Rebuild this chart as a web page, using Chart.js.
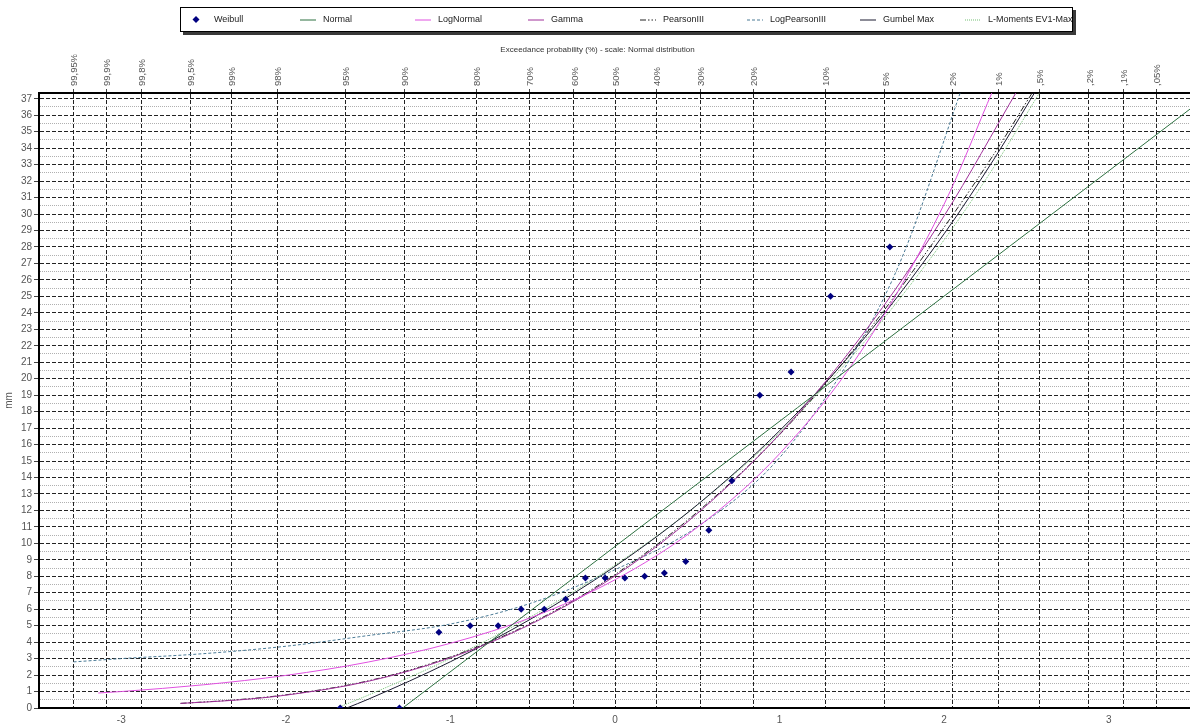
<!DOCTYPE html>
<html>
<head>
<meta charset="utf-8">
<script src="https://cdn.jsdelivr.net/npm/chart.js@4.4.1/dist/chart.umd.min.js"></script>
<style>
  html, body { margin: 0; padding: 0; background: #fff; overflow: hidden; }
  #wrap { width: 1195px; height: 728px; }
</style>
</head>
<body>
<div id="wrap"><canvas id="chart"></canvas></div>
<script>
// top axis: exceedance probability, placed on the normal (z) scale
const probZ = [-3.29, -3.09, -2.88, -2.58, -2.33, -2.05, -1.64, -1.28, -0.84, -0.52, -0.25, 0,
  0.25, 0.52, 0.84, 1.28, 1.64, 2.05, 2.33, 2.58, 2.88, 3.09, 3.29];
const probLabels = ['99,95%', '99,9%', '99,8%', '99,5%', '99%', '98%', '95%', '90%', '80%', '70%', '60%', '50%',
  '40%', '30%', '20%', '10%', '5%', '2%', '1%', ',5%', ',2%', ',1%', ',05%'];
const zTicks = [-3, -2, -1, 0, 1, 2, 3];

// observed values (Weibull plotting positions)
const weibullZ = [-1.67, -1.31, -1.07, -0.88, -0.71, -0.57, -0.43, -0.30, -0.18, -0.06,
  0.06, 0.18, 0.30, 0.43, 0.57, 0.71, 0.88, 1.07, 1.31, 1.67];
const weibullMm = [0, 0, 4.6, 5, 5, 6, 6, 6.6, 7.9, 7.9, 7.9, 8, 8.2, 8.9, 10.8, 13.8, 19, 20.4, 25, 28];

// fitted distributions
const normalZ = [-1.29, 3.55];
const normalMm = [0, 36.8];

const logNormalZ = [-3.14, -3, -2.5, -2, -1.5, -1, -0.5, 0, 0.5, 1, 1.5, 2, 2.3];
const logNormalMm = [0.91, 1.0, 1.41, 1.98, 2.79, 3.93, 5.53, 7.79, 10.97, 15.44, 21.74, 30.6, 37.6];

const gammaZ = [-2.64, -2.3, -2, -1.5, -1, -0.5, 0, 0.5, 1, 1.5, 2, 2.45];
const gammaMm = [0.28, 0.48, 0.78, 1.62, 3.05, 5.15, 8.02, 11.81, 16.63, 22.62, 29.89, 37.6];

const pearsonZ = [-2.64, -2.3, -2, -1.5, -1, -0.5, 0, 0.5, 1, 1.5, 2, 2.3, 2.55];
const pearsonMm = [0.28, 0.5, 0.8, 1.65, 3.1, 5.2, 8.1, 11.9, 16.6, 22.4, 29.2, 33.6, 37.6];

const logPearsonZ = [-3.29, -3, -2.5, -2, -1.5, -1, -0.5, 0, 0.5, 1, 1.5, 1.75, 2.12];
const logPearsonMm = [2.8, 3.0, 3.3, 3.75, 4.4, 5.1, 6.4, 8.4, 11.0, 15.2, 22.4, 27.5, 38];

const gumbelZ = [-1.63, -1.5, -1, -0.5, 0, 0.5, 1, 1.5, 2, 2.3, 2.6];
const gumbelMm = [0, 0.53, 2.81, 5.47, 8.6, 12.34, 16.84, 22.28, 28.8, 33.29, 38.2];

const lMomZ = [-1.69, -1.5, -1, -0.5, 0, 0.5, 1, 1.5, 2, 2.3, 2.6];
const lMomMm = [0, 0.78, 3.01, 5.61, 8.68, 12.33, 16.73, 22.05, 28.43, 32.82, 37.7];

const pts = (xs, ys) => xs.map((x, i) => ({ x: x, y: ys[i] }));
const FONT = "'Liberation Sans', Arial, sans-serif";
const NARROW = "'Liberation Sans Narrow', 'Arial Narrow', 'Liberation Sans', Arial, sans-serif";

function curve(label, xs, ys, color, dash) {
  return {
    label: label,
    data: pts(xs, ys),
    borderColor: color,
    backgroundColor: color,
    borderWidth: 1,
    borderDash: dash || [],
    pointRadius: 0,
    showLine: true,
    cubicInterpolationMode: 'monotone'
  };
}

// legend in a framed box with a drop shadow
const legendX = [191, 300, 415, 528, 640, 747, 860, 965];
const legendBox = {
  id: 'legendBox',
  afterDraw(chart) {
    const ctx = chart.ctx;
    ctx.save();
    ctx.fillStyle = '#3a3a3a';
    ctx.fillRect(183, 10, 893, 25);
    ctx.fillStyle = '#fff';
    ctx.fillRect(180, 7, 893, 25);
    ctx.strokeStyle = '#000';
    ctx.lineWidth = 1;
    ctx.strokeRect(180.5, 7.5, 892, 24);
    ctx.font = '9px ' + FONT;
    ctx.textBaseline = 'middle';
    chart.data.datasets.forEach((ds, i) => {
      const x = legendX[i], y = 19.5;
      if (ds.label === 'Weibull') {
        ctx.fillStyle = ds.backgroundColor;
        ctx.beginPath();
        ctx.moveTo(x + 5, y - 3.5); ctx.lineTo(x + 8.5, y); ctx.lineTo(x + 5, y + 3.5); ctx.lineTo(x + 1.5, y);
        ctx.closePath();
        ctx.fill();
      } else {
        ctx.strokeStyle = ds.borderColor;
        ctx.setLineDash(ds.borderDash);
        ctx.beginPath();
        ctx.moveTo(x, y + 0.5); ctx.lineTo(x + 16, y + 0.5);
        ctx.stroke();
        ctx.setLineDash([]);
      }
      ctx.fillStyle = '#222';
      ctx.fillText(ds.label, x + 23, y);
    });
    ctx.restore();
  }
};

new Chart(document.getElementById('chart'), {
  type: 'scatter',
  data: {
    datasets: [
      {
        label: 'Weibull',
        data: pts(weibullZ, weibullMm),
        pointStyle: 'rectRot',
        pointRadius: 3.5,
        backgroundColor: '#000080',
        borderColor: '#000080',
        borderWidth: 0
      },
      curve('Normal', normalZ, normalMm, '#2d7040'),
      curve('LogNormal', logNormalZ, logNormalMm, '#e050e0'),
      curve('Gamma', gammaZ, gammaMm, '#a0309a'),
      curve('PearsonIII', pearsonZ, pearsonMm, '#222222', [6, 2, 1.5, 2, 1.5, 2]),
      curve('LogPearsonIII', logPearsonZ, logPearsonMm, '#4a7a95', [3, 2]),
      curve('Gumbel Max', gumbelZ, gumbelMm, '#1a1a30'),
      curve('L-Moments EV1-Max', lMomZ, lMomMm, '#74c074', [1, 1])
    ]
  },
  options: {
    responsive: true,
    maintainAspectRatio: false,
    animation: false,
    layout: { padding: 0 },
    plugins: {
      legend: { display: false },
      tooltip: { enabled: false },
      title: {
        display: true,
        text: 'Exceedance probability (%) - scale: Normal distribution',
        color: '#333',
        font: { family: FONT, size: 8, weight: 'normal' },
        padding: { top: 45, bottom: 0 }
      }
    },
    scales: {
      x: {
        type: 'linear',
        position: 'bottom',
        min: -3.5,
        max: 3.5,
        afterBuildTicks: s => { s.ticks = zTicks.map(v => ({ value: v })); },
        afterFit: s => { s.height = 20; },
        grid: { display: false, drawTicks: false },
        border: { display: true, color: '#000', width: 2 },
        ticks: { color: '#555', font: { family: FONT, size: 10 }, padding: 6, maxRotation: 0 }
      },
      x2: {
        type: 'linear',
        position: 'top',
        min: -3.5,
        max: 3.5,
        afterBuildTicks: s => { s.ticks = probZ.map(v => ({ value: v })); },
        afterFit: s => { s.height = 38.4; },
        grid: { color: '#222', lineWidth: 1, tickLength: 4, tickColor: '#444', tickBorderDash: [] },
        border: { display: true, color: '#000', width: 2, dash: [4, 2] },
        ticks: {
          autoSkip: false,
          maxRotation: 90,
          minRotation: 90,
          padding: 3,
          labelOffset: 12.5,
          color: '#555',
          font: { family: NARROW, size: 9.5 },
          callback: (v, i) => probLabels[i]
        }
      },
      y: {
        type: 'linear',
        min: 0,
        max: 37.35,
        afterBuildTicks: s => {
          s.ticks = Array.from({ length: 75 }, (_, i) => ({ value: i / 2 }));
        },
        afterFit: s => { s.width = 39; },
        title: { display: true, text: 'mm', color: '#555', font: { family: FONT, size: 10 }, padding: { top: 3, bottom: 0 } },
        grid: {
          color: c => (c.tick && c.tick.value % 1 !== 0) ? '#b0b0b0' : '#222',
          tickColor: c => (c.tick && c.tick.value % 1 !== 0) ? 'rgba(0,0,0,0)' : '#444',
          tickLength: 5,
          tickBorderDash: []
        },
        border: {
          display: true, color: '#000', width: 2,
          dash: c => (c.tick && c.tick.value % 1 !== 0) ? [1, 1] : [4, 2]
        },
        ticks: {
          autoSkip: false,
          padding: 2,
          color: '#555',
          font: { family: FONT, size: 10 },
          callback: v => (v % 1 === 0 ? String(v) : '')
        }
      }
    }
  },
  plugins: [legendBox]
});
</script>
</body>
</html>
